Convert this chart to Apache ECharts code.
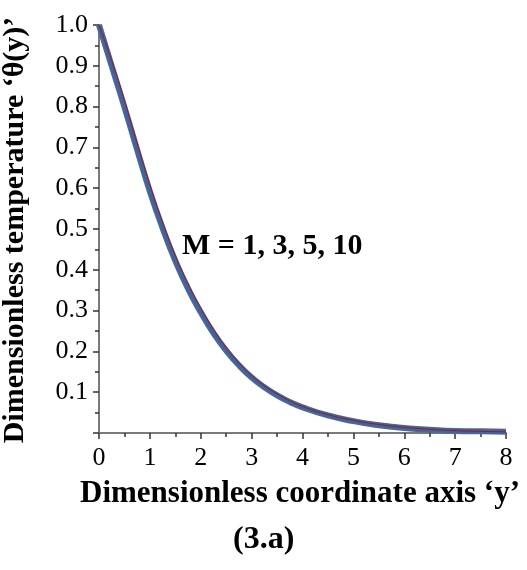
<!DOCTYPE html>
<html>
<head>
<meta charset="utf-8">
<script src="https://cdn.jsdelivr.net/npm/echarts@6/dist/echarts.min.js"></script>
<style>html,body{margin:0;padding:0;background:#fff}#c{width:527px;height:570px}</style>
</head>
<body>
<div id="c"></div>
<script>
var xs       = [0, 0.25, 0.5, 0.75, 1, 1.25, 1.5, 1.75, 2, 2.25, 2.5, 2.75, 3, 3.25, 3.5, 3.75, 4, 4.5, 5, 5.5, 6, 6.5, 7, 7.5, 8];
var thetaM1  = [1.0, 0.913, 0.815, 0.710, 0.608, 0.516, 0.435, 0.366, 0.306, 0.254, 0.209, 0.172, 0.141, 0.116, 0.096, 0.079, 0.065, 0.045, 0.031, 0.021, 0.014, 0.009, 0.006, 0.004, 0.003];
var thetaM3  = [1.0, 0.908, 0.809, 0.704, 0.602, 0.511, 0.430, 0.362, 0.302, 0.251, 0.207, 0.170, 0.139, 0.115, 0.095, 0.078, 0.064, 0.044, 0.030, 0.020, 0.013, 0.009, 0.006, 0.004, 0.003];
var thetaM5  = [1.0, 0.902, 0.802, 0.697, 0.595, 0.505, 0.425, 0.357, 0.299, 0.248, 0.204, 0.168, 0.138, 0.114, 0.094, 0.077, 0.064, 0.044, 0.030, 0.020, 0.013, 0.009, 0.006, 0.004, 0.003];
var thetaM10 = [1.0, 0.899, 0.799, 0.694, 0.592, 0.502, 0.422, 0.354, 0.296, 0.245, 0.202, 0.166, 0.136, 0.112, 0.092, 0.076, 0.063, 0.043, 0.029, 0.019, 0.012, 0.008, 0.005, 0.004, 0.003];
var yTicks = [0.1, 0.2, 0.3, 0.4, 0.5, 0.6, 0.7, 0.8, 0.9, 1.0];

function pairs(v){ return xs.map(function(x,i){ return [x, v[i]]; }); }
var serif = '"Liberation Serif","Times New Roman",serif';
var chart = echarts.init(document.getElementById('c'));
chart.setOption({
  animation: false,
  grid: {left: 99, right: 21, top: 25, bottom: 137, containLabel: false, outerBoundsMode: 'none'},
  xAxis: {
    type: 'value', min: 0, max: 8, interval: 1,
    axisLine: {show: true, onZero: false, lineStyle: {color: '#7a7a7a', width: 2}},
    axisTick: {show: true, inside: false, length: 6, lineStyle: {color: '#333', width: 1.5}},
    minorTick: {show: true, splitNumber: 2, length: 4, lineStyle: {color: '#333', width: 1.5}},
    splitLine: {show: false},
    axisLabel: {fontFamily: serif, fontSize: 26, color: '#000', margin: 12}
  },
  yAxis: {
    type: 'value', min: 0, max: 1.0, interval: 0.1,
    axisLine: {show: true, onZero: false, lineStyle: {color: '#7a7a7a', width: 2}},
    axisTick: {show: true, length: 6, lineStyle: {color: '#333', width: 1.5}},
    minorTick: {show: true, splitNumber: 2, length: 4, lineStyle: {color: '#333', width: 1.5}},
    splitLine: {show: false},
    axisLabel: {fontFamily: serif, fontSize: 26, color: '#000', margin: 11,
      formatter: function(v){ var r = Math.round(v*10)/10; return yTicks.indexOf(r) >= 0 ? r.toFixed(1) : ''; }}
  },
  series: [
    {name: 'M=3', type: 'line', smooth: true, symbol: 'none', data: pairs(thetaM3), lineStyle: {color: '#2a2a2a', width: 1.5}, z: 1},
    {name: 'M=10', type: 'line', smooth: true, symbol: 'none', data: pairs(thetaM10), lineStyle: {color: '#4a6a9e', width: 6}, z: 2},
    {name: 'M=5', type: 'line', smooth: true, symbol: 'none', data: pairs(thetaM5), lineStyle: {color: '#42639a', width: 4}, z: 3},
    {name: 'M=1', type: 'line', smooth: true, symbol: 'none', data: pairs(thetaM1), lineStyle: {color: '#9a1a22', width: 1}, z: 4}
  ],
  graphic: [
    {type: 'text', x: 15, y: 230, rotation: Math.PI / 2, style: {text: 'Dimensionless temperature ‘θ(y)’', font: 'bold 30px ' + serif, fill: '#000', align: 'center', verticalAlign: 'middle'}},
    {type: 'text', left: 182, top: 231, style: {text: 'M = 1, 3, 5, 10', font: 'bold 30px ' + serif, fill: '#000'}},
    {type: 'text', left: 80, top: 478, style: {text: 'Dimensionless coordinate axis ‘y’', font: 'bold 31px ' + serif, fill: '#000'}},
    {type: 'text', left: 233, top: 524, style: {text: '(3.a)', font: 'bold 32px ' + serif, fill: '#000'}}
  ]
});
</script>
</body>
</html>
